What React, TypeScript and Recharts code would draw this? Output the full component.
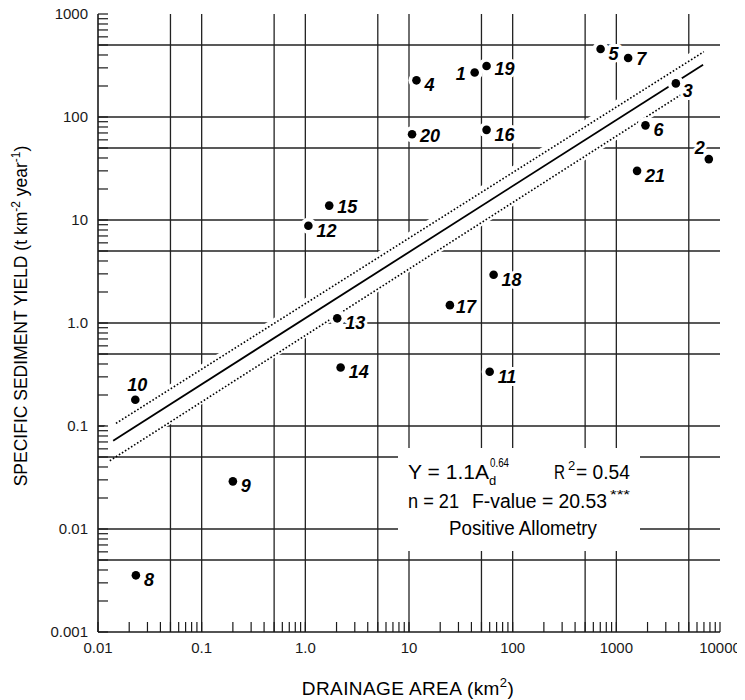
import React from "react";
import { ScatterChart, Scatter, XAxis, YAxis, CartesianGrid, Customized } from "recharts";

// catchment ids, drainage area (km2) and specific sediment yield (t km-2 yr-1)
const pointIds = ["1", "2", "3", "4", "5", "6", "7", "8", "9", "10", "11", "12", "13", "14", "15", "16", "17", "18", "19", "20", "21"];
const drainageArea = [43, 7800, 3750, 11.8, 705, 1910, 1300, 0.0232, 0.2, 0.0229, 60, 1.07, 2.03, 2.19, 1.7, 56, 24.8, 65.5, 56, 10.7, 1585];
const sedimentYield = [270, 39, 212, 227, 457, 83, 374, 0.00355, 0.029, 0.18, 0.336, 8.8, 1.11, 0.37, 13.8, 75, 1.49, 2.94, 313, 68, 30];

// regression line and its dotted band, end points
const fitArea = [0.014, 6870];
const fitYield = [0.072, 322];
const upperArea = [0.0149, 6980];
const upperYield = [0.106, 430];
const lowerArea = [0.013, 4500];
const lowerYield = [0.046, 172];

const xDecades = [0.01, 0.1, 1, 10, 100, 1000, 10000];
const xTickLabels = ["0.01", "0.1", "1.0", "10", "100", "1000", "10000"];
const yDecades = [0.001, 0.01, 0.1, 1, 10, 100, 1000];
const yTickLabels = ["0.001", "0.01", "0.1", "1.0", "10", "100", "1000"];
const xGrid = [0.05, 0.1, 0.5, 1, 5, 10, 50, 100, 500, 1000, 5000];
const yGrid = [0.005, 0.01, 0.05, 0.1, 0.5, 1, 5, 10, 50, 100, 500];

const FONT = "'Liberation Sans', Arial, sans-serif";
const INK = "#1a1a1a";

const points = pointIds.map((id, i) => ({ id, x: drainageArea[i], y: sedimentYield[i] }));
const toPairs = (xs: number[], ys: number[]) => xs.map((x, i) => ({ x, y: ys[i] }));
const fitLine = toPairs(fitArea, fitYield);
const upperLine = toPairs(upperArea, upperYield);
const lowerLine = toPairs(lowerArea, lowerYield);

// minor log ticks (2..9 in every decade) plus the decades themselves
const logTicks = (decades: number[]) => {
  const out: number[] = [];
  decades.forEach((d, i) => {
    if (i === decades.length - 1) {
      out.push(d);
      return;
    }
    for (let k = 1; k < 10; k++) out.push(d * k);
  });
  return out;
};
const xTicks = logTicks(xDecades);
const yTicks = logTicks(yDecades);

const labelOf = (v: number, decades: number[], labels: string[]) => {
  const i = decades.findIndex((d) => Math.abs(v - d) / d < 1e-6);
  return i >= 0 ? labels[i] : null;
};

const TICK_LEN = 10;

const BottomTick = (p: any) => {
  const lbl = labelOf(p.payload.value, xDecades, xTickLabels);
  return (
    <g>
      <line x1={p.x} x2={p.x} y1={p.y} y2={p.y - TICK_LEN} stroke={INK} strokeWidth={1.2} />
      {lbl && (
        <text x={p.x} y={p.y + 21} textAnchor="middle" fontFamily={FONT} fontSize={15} fill={INK}>
          {lbl}
        </text>
      )}
    </g>
  );
};

const TopTick = (p: any) => (
  <line x1={p.x} x2={p.x} y1={p.y} y2={p.y + TICK_LEN} stroke={INK} strokeWidth={1.2} />
);

const LeftTick = (p: any) => {
  const lbl = labelOf(p.payload.value, yDecades, yTickLabels);
  return (
    <g>
      <line x1={p.x} x2={p.x + TICK_LEN} y1={p.y} y2={p.y} stroke={INK} strokeWidth={1.2} />
      {lbl && (
        <text x={p.x - 10} y={p.y + 5} textAnchor="end" fontFamily={FONT} fontSize={15} fill={INK}>
          {lbl}
        </text>
      )}
    </g>
  );
};

const RightTick = (p: any) => (
  <line x1={p.x} x2={p.x - TICK_LEN} y1={p.y} y2={p.y} stroke={INK} strokeWidth={1.2} />
);

// where each number sits relative to its dot: [dx, dy, anchor]
const labelPlace: Record<string, [number, number, "start" | "middle" | "end"]> = {
  "1": [-9, 7, "end"],
  "2": [-4, -5, "end"],
  "3": [7, 14, "start"],
  "7": [8, 7, "start"],
  "10": [2, -9, "middle"],
  "15": [8, 7, "start"],
  "17": [6, 8, "start"],
  "19": [8, 9, "start"],
  "20": [8, 8, "start"],
};

const PointShape = (p: any) => {
  const { cx, cy, payload } = p;
  const [dx, dy, anchor] = labelPlace[payload.id] || [8, 11, "start"];
  return (
    <g>
      <circle cx={cx} cy={cy} r={8} fill="#fff" />
      <circle cx={cx} cy={cy} r={4.3} fill="#000" />
      <text
        x={cx + dx}
        y={cy + dy}
        textAnchor={anchor}
        fontFamily={FONT}
        fontSize={18}
        fontWeight={700}
        fontStyle="italic"
        fill="#000"
        stroke="#fff"
        strokeWidth={6}
        paintOrder="stroke"
        strokeLinejoin="round"
      >
        {payload.id}
      </text>
    </g>
  );
};

const Empty = () => <g />;

const FIT = "spacingAndGlyphs";

const Annotations = () => (
  <g fontFamily={FONT} fill="#000">
    <rect x={398} y={448} width={242} height={103} fill="#fff" />
    <g fontSize={20}>
      <text x={408} y={479} textLength={81} lengthAdjust={FIT}>Y = 1.1A</text>
      <text x={489} y={485} fontSize={13}>d</text>
      <text x={490} y={467} fontSize={13} textLength={19} lengthAdjust={FIT}>0.64</text>
      <text x={554} y={479} textLength={11} lengthAdjust={FIT}>R</text>
      <text x={568} y={470} fontSize={13}>2</text>
      <text x={576} y={479} textLength={54} lengthAdjust={FIT}>= 0.54</text>

      <text x={408} y={508} textLength={51} lengthAdjust={FIT}>n = 21</text>
      <text x={472} y={508} textLength={135} lengthAdjust={FIT}>F-value = 20.53</text>
      <text x={610} y={499} fontSize={13} textLength={20} lengthAdjust={FIT}>***</text>

      <text x={449} y={535} textLength={148} lengthAdjust={FIT}>Positive Allometry</text>
    </g>

    <text x={408} y={695} fontSize={19} letterSpacing={0.4} textAnchor="middle">
      DRAINAGE AREA (km
      <tspan fontSize={13} dy={-8}>2</tspan>
      <tspan dy={8}>)</tspan>
    </text>
    <text x={0} y={0} fontSize={17.5} textAnchor="middle" transform="translate(26.5 316) rotate(-90)">
      SPECIFIC SEDIMENT YIELD (t km
      <tspan fontSize={12} dy={-7}>-2</tspan>
      <tspan dy={7}> year</tspan>
      <tspan fontSize={12} dy={-7}>-1</tspan>
      <tspan dy={7}>)</tspan>
    </text>
  </g>
);

export default function App() {
  return (
    <div style={{ marginTop: -8, marginLeft: -8 }}>
      <ScatterChart width={745} height={700} margin={{ top: 14, right: 25, bottom: 0, left: 0 }}>
        <CartesianGrid horizontalValues={yGrid} verticalValues={xGrid} stroke="#222" strokeWidth={1.3} />
        <XAxis
          dataKey="x"
          type="number"
          scale="log"
          domain={[0.01, 10000]}
          allowDataOverflow
          ticks={xTicks}
          interval={0}
          tickSize={0}
          tickMargin={0}
          tick={(p: any) => <BottomTick {...p} />}
          tickLine={false}
          axisLine={{ stroke: INK, strokeWidth: 1.6 }}
          height={68}
        />
        <XAxis
          xAxisId="top"
          orientation="top"
          type="number"
          scale="log"
          domain={[0.01, 10000]}
          allowDataOverflow
          ticks={xTicks}
          interval={0}
          tickSize={0}
          tickMargin={0}
          tick={(p: any) => <TopTick {...p} />}
          tickLine={false}
          axisLine={{ stroke: INK, strokeWidth: 1.6 }}
          height={0}
        />
        <YAxis
          dataKey="y"
          type="number"
          scale="log"
          domain={[0.001, 1000]}
          allowDataOverflow
          ticks={yTicks}
          interval={0}
          tickSize={0}
          tickMargin={0}
          tick={(p: any) => <LeftTick {...p} />}
          tickLine={false}
          axisLine={{ stroke: INK, strokeWidth: 1.6 }}
          width={98}
        />
        <YAxis
          yAxisId="right"
          orientation="right"
          type="number"
          scale="log"
          domain={[0.001, 1000]}
          allowDataOverflow
          ticks={yTicks}
          interval={0}
          tickSize={0}
          tickMargin={0}
          tick={(p: any) => <RightTick {...p} />}
          tickLine={false}
          axisLine={{ stroke: INK, strokeWidth: 1.6 }}
          width={0}
        />
        <Customized component={Annotations} />
        <Scatter data={fitLine} line={{ stroke: "#fff", strokeWidth: 34 }} shape={Empty} isAnimationActive={false} />
        <Scatter data={upperLine} line={{ stroke: "#000", strokeWidth: 1.6, strokeDasharray: "1.6 2" }} shape={Empty} isAnimationActive={false} />
        <Scatter data={lowerLine} line={{ stroke: "#000", strokeWidth: 1.6, strokeDasharray: "1.6 2" }} shape={Empty} isAnimationActive={false} />
        <Scatter data={fitLine} line={{ stroke: "#000", strokeWidth: 1.8 }} shape={Empty} isAnimationActive={false} />
        <Scatter data={points} shape={PointShape} isAnimationActive={false} />
      </ScatterChart>
    </div>
  );
}
